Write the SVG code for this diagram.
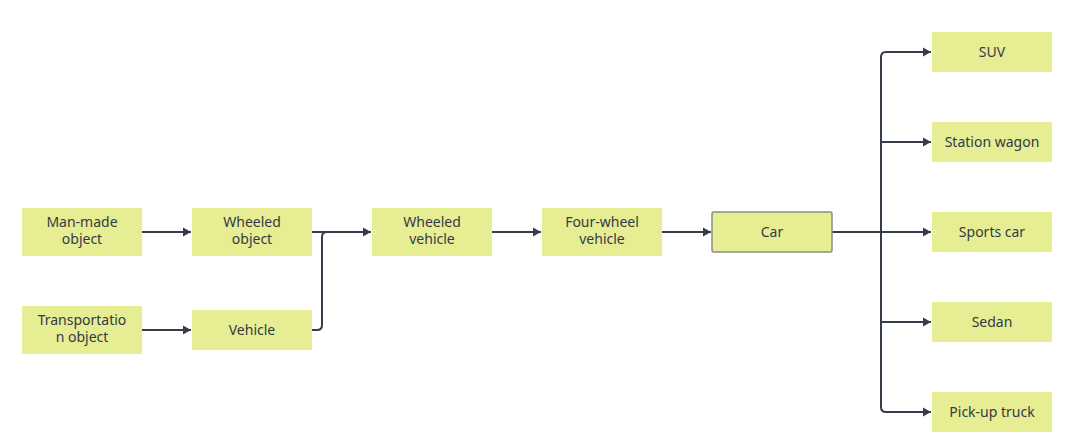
<svg xmlns="http://www.w3.org/2000/svg" width="1066" height="443" viewBox="0 0 1066 443">
<defs>
<marker id="arr" markerWidth="9" markerHeight="10" refX="8" refY="5" orient="auto" markerUnits="userSpaceOnUse">
<path d="M0,0.5 L8,5 L0,9.5 Z" fill="#363d4a"/>
</marker>
<style>
.n{fill:#e6ed93;}
.c{fill:#e6ed93;stroke:#8c8f86;stroke-width:1.5;}
.t{font-family:"Noto Sans","Open Sans",sans-serif;font-size:14px;fill:#333a46;text-anchor:middle;}
.e{fill:none;stroke:#363d4a;stroke-width:2;marker-end:url(#arr);}
.l{fill:none;stroke:#363d4a;stroke-width:2;}
</style>
</defs>
<rect width="1066" height="443" fill="#ffffff"/>
<g id="connectors">
<path class="e" d="M142,232 H191"/>
<path class="e" d="M142,330 H191"/>
<path class="e" d="M312,232 H371"/>
<path class="l" d="M312,330 H317 Q322,330 322,325 V237 Q322,232 327,232"/>
<path class="e" d="M492,232 H541"/>
<path class="e" d="M662,232 H711"/>
<path class="l" d="M832,232 H881"/>
<path class="l" d="M881,57 Q881,52 886,52"/>
<path class="l" d="M881,57 V407 Q881,412 886,412"/>
<path class="e" d="M886,52 H931"/>
<path class="e" d="M881,142 H931"/>
<path class="e" d="M881,232 H931"/>
<path class="e" d="M881,322 H931"/>
<path class="e" d="M886,412 H931"/>
</g>
<g id="man-made"><rect class="n" x="22" y="208" width="120" height="48"/><text class="t" x="82" y="227">Man-made</text><text class="t" x="82" y="244">object</text></g>
<g id="transportation"><rect class="n" x="22" y="306" width="120" height="48"/><text class="t" x="82" y="325">Transportatio</text><text class="t" x="82" y="342">n object</text></g>
<g id="wheeled-object"><rect class="n" x="192" y="208" width="120" height="48"/><text class="t" x="252" y="227">Wheeled</text><text class="t" x="252" y="244">object</text></g>
<g id="vehicle"><rect class="n" x="192" y="310" width="120" height="40"/><text class="t" x="252" y="335">Vehicle</text></g>
<g id="wheeled-vehicle"><rect class="n" x="372" y="208" width="120" height="48"/><text class="t" x="432" y="227">Wheeled</text><text class="t" x="432" y="244">vehicle</text></g>
<g id="four-wheel"><rect class="n" x="542" y="208" width="120" height="48"/><text class="t" x="602" y="227">Four-wheel</text><text class="t" x="602" y="244">vehicle</text></g>
<g id="car"><rect class="c" x="712" y="212" width="120" height="40" rx="2"/><text class="t" x="772" y="237">Car</text></g>
<g id="suv"><rect class="n" x="932" y="32" width="120" height="40"/><text class="t" x="992" y="57">SUV</text></g>
<g id="station-wagon"><rect class="n" x="932" y="122" width="120" height="40"/><text class="t" x="992" y="147">Station wagon</text></g>
<g id="sports-car"><rect class="n" x="932" y="212" width="120" height="40"/><text class="t" x="992" y="237">Sports car</text></g>
<g id="sedan"><rect class="n" x="932" y="302" width="120" height="40"/><text class="t" x="992" y="327">Sedan</text></g>
<g id="pickup"><rect class="n" x="932" y="392" width="120" height="40"/><text class="t" x="992" y="417">Pick-up truck</text></g>
</svg>
